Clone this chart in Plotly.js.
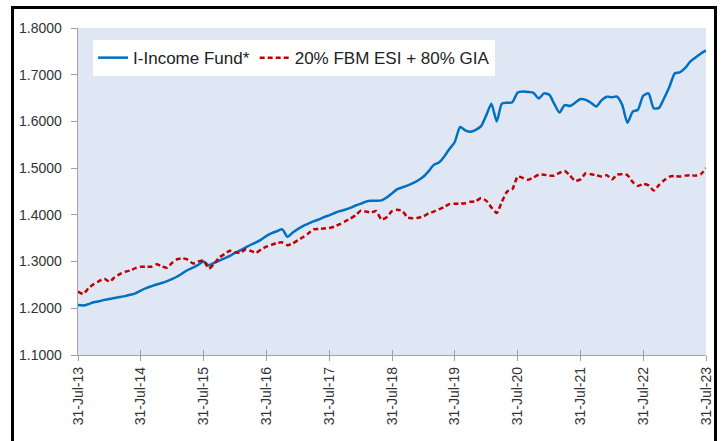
<!DOCTYPE html>
<html>
<head>
<meta charset="utf-8">
<script src="https://cdn.plot.ly/plotly-3.0.1.min.js"></script>
<style>
  html, body { margin: 0; padding: 0; background: #ffffff; }
  #wrap { position: relative; width: 722px; height: 441px; overflow: hidden; }
  #chart { position: absolute; left: 0; top: 0; width: 722px; height: 441px; }
  #frame { position: absolute; left: 11px; top: 6px; width: 700px; height: 460px;
           border: 3px solid #000; border-bottom: none; pointer-events: none; }
</style>
</head>
<body>
<div id="wrap">
  <div id="chart"></div>
  <div id="frame"></div>
</div>
<script>
// ---- data (monthly, 31-Jul-2013 .. 31-Jul-2023) ----
const startYear = 2013, startMonth = 7, nMonths = 121;

const fundName = "I-Income Fund*";
const benchName = "20% FBM ESI + 80% GIA";

const fundValues = [
  1.207,1.206,1.209,1.213,1.215,1.218,1.220,1.222,1.224,1.226,1.229,1.232,
  1.238,1.243,1.247,1.251,1.254,1.258,1.263,1.268,1.275,1.282,1.287,1.293,
  1.300,1.292,1.297,1.302,1.307,1.312,1.319,1.324,1.330,1.336,1.341,1.347,
  1.355,1.361,1.365,1.369,1.353,1.362,1.370,1.376,1.381,1.386,1.390,1.395,
  1.399,1.404,1.408,1.411,1.415,1.420,1.424,1.428,1.430,1.430,1.431,1.437,
  1.446,1.455,1.459,1.463,1.468,1.474,1.482,1.493,1.507,1.512,1.525,1.541,
  1.556,1.588,1.581,1.578,1.582,1.590,1.614,1.638,1.600,1.638,1.640,1.641,
  1.662,1.664,1.663,1.661,1.649,1.660,1.657,1.638,1.619,1.635,1.633,1.640,
  1.648,1.646,1.640,1.632,1.645,1.653,1.652,1.653,1.635,1.597,1.621,1.625,
  1.655,1.660,1.628,1.629,1.650,1.675,1.703,1.705,1.714,1.728,1.737,1.745,
  1.752
];

const benchValues = [
  1.236,1.231,1.243,1.252,1.258,1.263,1.257,1.266,1.273,1.278,1.281,1.286,
  1.289,1.289,1.289,1.294,1.290,1.287,1.298,1.305,1.307,1.304,1.296,1.300,
  1.302,1.285,1.295,1.309,1.316,1.323,1.320,1.319,1.326,1.323,1.319,1.326,
  1.332,1.336,1.340,1.341,1.335,1.339,1.346,1.352,1.360,1.369,1.370,1.371,
  1.372,1.375,1.380,1.386,1.392,1.399,1.409,1.407,1.405,1.408,1.390,1.395,
  1.408,1.411,1.408,1.394,1.393,1.394,1.397,1.403,1.407,1.412,1.417,1.423,
  1.424,1.424,1.425,1.428,1.429,1.436,1.430,1.416,1.404,1.428,1.450,1.455,
  1.482,1.479,1.475,1.480,1.486,1.486,1.484,1.484,1.490,1.494,1.484,1.473,
  1.476,1.489,1.487,1.485,1.482,1.485,1.476,1.486,1.487,1.485,1.470,1.462,
  1.466,1.463,1.452,1.464,1.474,1.482,1.483,1.482,1.484,1.485,1.484,1.487,
  1.500
];

const tickDates = ["2013-07-31","2014-07-31","2015-07-31","2016-07-31","2017-07-31","2018-07-31",
                   "2019-07-31","2020-07-31","2021-07-31","2022-07-31","2023-07-31"];
const tickLabels = ["31-Jul-13","31-Jul-14","31-Jul-15","31-Jul-16","31-Jul-17","31-Jul-18",
                    "31-Jul-19","31-Jul-20","31-Jul-21","31-Jul-22","31-Jul-23"];
const yTickVals = [1.1,1.2,1.3,1.4,1.5,1.6,1.7,1.8];
const yTickLabels = ["1.1000","1.2000","1.3000","1.4000","1.5000","1.6000","1.7000","1.8000"];

// month-end dates
function monthEnd(y, m) { // m 1..12
  const d = new Date(Date.UTC(y, m, 0));
  return d.toISOString().slice(0, 10);
}
const dates = [];
for (let i = 0; i < nMonths; i++) {
  const mm = startMonth - 1 + i;
  dates.push(monthEnd(startYear + Math.floor(mm / 12), (mm % 12) + 1));
}

const traces = [
  {
    x: dates, y: fundValues, name: fundName, type: "scatter", mode: "lines",
    line: { color: "#0070C0", width: 2.5, shape: "spline", smoothing: 0.6 }
  },
  {
    x: dates, y: benchValues, name: benchName, type: "scatter", mode: "lines",
    line: { color: "#C00000", width: 2.5, dash: "5px,3px", shape: "spline", smoothing: 0.6 }
  },
  {
    x: [dates[0]], y: [null], xaxis: "x2", yaxis: "y", showlegend: false,
    type: "scatter", mode: "lines", hoverinfo: "skip"
  }
];

const axisFont = { family: "Liberation Sans, Arial, sans-serif", size: 14, color: "#333333" };

const layout = {
  width: 722, height: 441,
  margin: { l: 78, r: 16, t: 28, b: 86 },
  paper_bgcolor: "#ffffff",
  plot_bgcolor: "#E0E7F4",
  showlegend: true,
  legend: {
    orientation: "h",
    x: 0.024, y: 0.963, xanchor: "left", yanchor: "top",
    bgcolor: "#ffffff",
    font: { family: "Liberation Sans, Arial, sans-serif", size: 17, color: "#222222" },
    itemwidth: 30,
    tracegroupgap: 0
  },
  xaxis: {
    type: "date",
    range: ["2013-07-31", "2023-07-31"],
    tickmode: "array", tickvals: tickDates, ticktext: tickLabels,
    tickangle: -90,
    tickfont: axisFont,
    ticks: "outside", ticklen: 5, tickcolor: "#a0a0a0", tickwidth: 1,
    showline: true, linecolor: "#a6a6a6", linewidth: 1.3,
    showgrid: false, zeroline: false,
    fixedrange: true
  },
  xaxis2: {
    type: "date",
    overlaying: "x", anchor: "y", side: "bottom",
    range: ["2013-07-31", "2023-07-31"],
    tickmode: "array", tickvals: tickDates, ticktext: tickLabels,
    showticklabels: false,
    ticks: "inside", ticklen: 5, tickcolor: "#a0a0a0", tickwidth: 1,
    showline: false, showgrid: false, zeroline: false
  },
  yaxis: {
    range: [1.1, 1.8],
    tickmode: "array", tickvals: yTickVals, ticktext: yTickLabels,
    tickfont: axisFont,
    ticks: "outside", ticklen: 6, tickcolor: "#a0a0a0", tickwidth: 1,
    ticklabelstandoff: 6,
    showline: true, linecolor: "#a6a6a6", linewidth: 1.3,
    showgrid: false, zeroline: false,
    fixedrange: true
  }
};

Plotly.newPlot("chart", traces, layout, { displayModeBar: false, staticPlot: true });
</script>
</body>
</html>
